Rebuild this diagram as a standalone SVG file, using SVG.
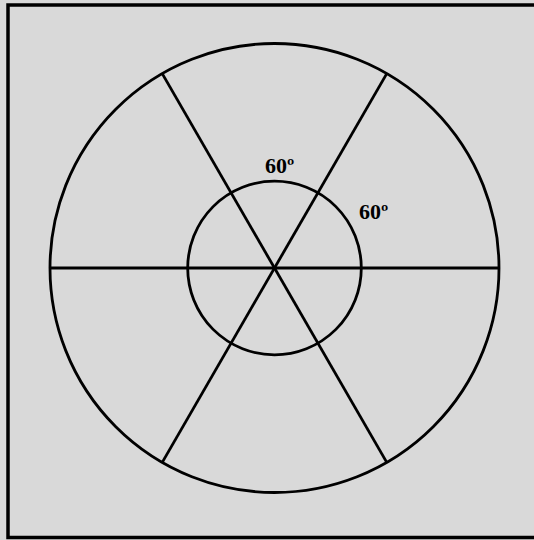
<svg xmlns="http://www.w3.org/2000/svg" width="534" height="540" viewBox="0 0 534 540">
<style>
.ln{stroke:#000;stroke-width:2.8;fill:none}
.lbl{font-family:"Liberation Serif","Times New Roman",serif;font-weight:bold;font-size:22px;fill:#000}
</style>
<rect x="0" y="0" width="534" height="540" fill="#d9d9d9"/>
<rect x="8" y="5" width="540" height="532.5" fill="#d9d9d9" stroke="#000" stroke-width="3.5"/>
<g id="outer-circle"><circle class="ln" cx="274.5" cy="268" r="224.5"/></g>
<g id="inner-circle"><circle class="ln" cx="274.5" cy="268" r="86.8"/></g>
<g id="connectors">
<line class="ln" x1="50" y1="268" x2="499" y2="268"/>
<line class="ln" x1="162.25" y1="73.6" x2="386.75" y2="462.4"/>
<line class="ln" x1="386.75" y1="73.6" x2="162.25" y2="462.4"/>
</g>
<g id="labels">
<text class="lbl" x="265" y="173">60º</text>
<text class="lbl" x="359" y="219">60º</text>
</g>
</svg>
